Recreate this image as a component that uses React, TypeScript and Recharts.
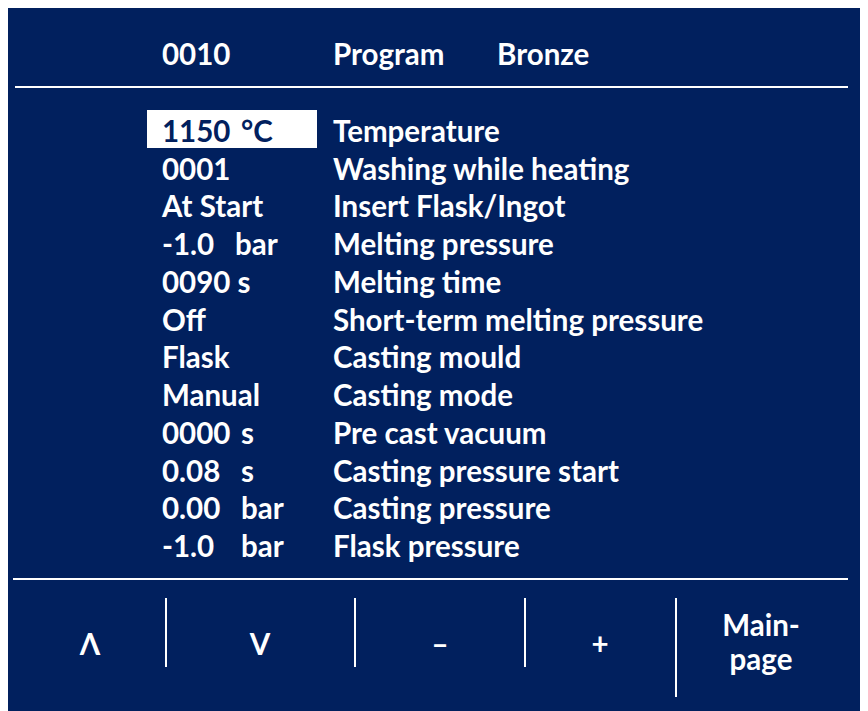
import { ComposedChart, XAxis, YAxis, Customized } from "recharts";

const NAVY = "#01205e";
const FONT = "Lato, 'DejaVu Sans', sans-serif";
const SIZE = 29.5;

const params = [
  "Temperature",
  "Washing while heating",
  "Insert Flask/Ingot",
  "Melting pressure",
  "Melting time",
  "Short-term melting pressure",
  "Casting mould",
  "Casting mode",
  "Pre cast vacuum",
  "Casting pressure start",
  "Casting pressure",
  "Flask pressure",
];
const values = [
  "1150",
  "0001",
  "At Start",
  "-1.0",
  "0090 s",
  "Off",
  "Flask",
  "Manual",
  "0000",
  "0.08",
  "0.00",
  "-1.0",
];
const units = ["°C", "", "", "bar", "", "", "", "", "s", "s", "bar", "bar"];
const header = ["0010", "Program", "Bronze"];
const buttons = ["Λ", "V", "–", "+"];
const selected = 0;

const rows = params.map((label, i) => ({ label, value: values[i], unit: units[i] }));

function RowTick(props: any) {
  const { y, index } = props;
  const row = rows[index];
  const active = index === selected;
  const color = active ? NAVY : "#fff";
  const unitX = index === 3 ? 227 : 233;
  const base = y + 11;
  return (
    <g>
      {active && <rect x={139} y={y - 21} width={170} height={38} fill="#fff" />}
      <text x={154} y={base} fill={color} fontSize={SIZE} fontWeight="bold" fontFamily={FONT}>
        {row.value}
      </text>
      {row.unit && (
        <text x={unitX} y={base} fill={color} fontSize={SIZE} fontWeight="bold" fontFamily={FONT}>
          {row.unit}
        </text>
      )}
      <text x={325} y={base} fill="#fff" fontSize={SIZE} fontWeight="bold" fontFamily={FONT}>
        {row.label}
      </text>
    </g>
  );
}

function Frame() {
  const txt = { fill: "#fff", fontSize: SIZE, fontWeight: "bold", fontFamily: FONT } as const;
  const headX = [154, 325, 489];
  const btnX = [82, 252, 432, 592];
  return (
    <g>
      {header.map((h, i) => (
        <text key={h} x={headX[i]} y={57} {...txt}>
          {h}
        </text>
      ))}
      <line x1={7} x2={840} y1={79} y2={79} stroke="#fff" strokeWidth={2} />
      <line x1={5} x2={840} y1={571} y2={571} stroke="#fff" strokeWidth={2} />
      {[158, 347, 517].map((x) => (
        <line key={x} x1={x} x2={x} y1={590} y2={659} stroke="#fff" strokeWidth={2} />
      ))}
      <line x1={668} x2={668} y1={590} y2={689} stroke="#fff" strokeWidth={2} />
      {buttons.map((b, i) => (
        <text key={b} x={btnX[i]} y={647} textAnchor="middle" {...txt}>
          {b}
        </text>
      ))}
      <text x={753} y={628} textAnchor="middle" {...txt}>
        Main-
      </text>
      <text x={753} y={662} textAnchor="middle" {...txt}>
        page
      </text>
    </g>
  );
}

export default function App() {
  return (
    <div style={{ width: 860, height: 703, background: NAVY }}>
      <ComposedChart
        width={860}
        height={703}
        layout="vertical"
        data={rows}
        margin={{ top: 123, right: 0, bottom: 165, left: 0 }}
      >
        <XAxis type="number" hide domain={[0, 1]} />
        <YAxis
          type="category"
          dataKey="label"
          width={840}
          axisLine={false}
          tickLine={false}
          interval={0}
          tick={<RowTick />}
        />
        <Customized component={<Frame />} />
      </ComposedChart>
    </div>
  );
}
